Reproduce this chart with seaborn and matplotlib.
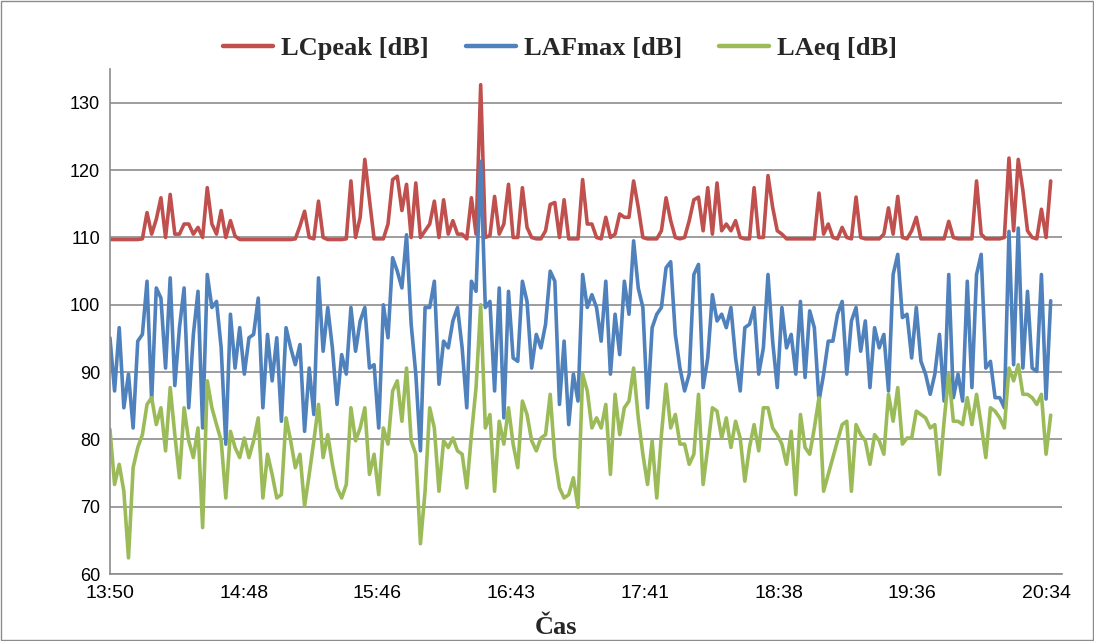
import numpy as np
import pandas as pd
import matplotlib.pyplot as plt
import seaborn as sns
from matplotlib.patches import Rectangle

# Noise levels, one sample every 2 minutes from 13:50
lcpeak = [
    109.7, 109.7, 109.7, 109.7, 109.7, 109.7, 109.7, 109.8, 113.7, 110.5,
    112.7, 115.9, 110.0, 116.4, 110.5, 110.5, 112.0, 112.0, 110.5, 111.5,
    110.0, 117.4, 112.0, 110.5, 114.0, 110.0, 112.5, 110.2, 109.7, 109.7,
    109.7, 109.7, 109.7, 109.7, 109.7, 109.7, 109.7, 109.7, 109.7, 109.7,
    109.8, 111.7, 113.9, 110.0, 109.8, 115.4, 110.0, 109.7, 109.7, 109.7,
    109.7, 109.8, 118.4, 110.0, 113.0, 121.6, 115.6, 109.8, 109.8, 109.8,
    112.0, 118.6, 119.1, 114.0, 117.9, 110.0, 118.1, 110.0, 111.0, 112.0,
    115.4, 110.0, 115.6, 110.5, 112.5, 110.5, 110.5, 109.8, 115.9, 110.5,
    132.7, 110.0, 110.3, 116.1, 110.5, 112.0, 117.9, 110.0, 110.0, 117.4,
    111.5, 110.0, 109.8, 109.8, 111.0, 114.9, 115.2, 110.0, 115.6, 109.8,
    109.8, 109.8, 118.6, 112.0, 112.0, 110.0, 109.8, 113.0, 110.0, 110.5,
    113.5, 113.0, 113.0, 118.4, 114.5, 110.0, 109.8, 109.8, 109.8, 111.0,
    115.9, 112.5, 110.0, 109.8, 110.0, 112.5, 115.6, 116.0, 111.0, 117.4,
    110.5, 118.1, 111.0, 112.0, 111.0, 112.5, 110.0, 109.8, 109.8, 117.4,
    110.0, 110.0, 119.2, 114.5, 111.0, 110.5, 109.8, 109.8, 109.8, 109.8,
    109.8, 109.8, 109.8, 116.6, 110.5, 112.0, 110.0, 109.8, 111.5, 110.0,
    109.8, 116.0, 110.0, 109.8, 109.8, 109.8, 109.8, 110.5, 114.4, 110.5,
    116.1, 110.0, 109.8, 111.0, 113.0, 109.8, 109.8, 109.8, 109.8, 109.8,
    109.8, 112.4, 110.0, 109.8, 109.8, 109.8, 109.8, 118.4, 110.5, 109.8,
    109.8, 109.8, 109.8, 110.0, 121.8, 111.0, 121.6, 117.0, 111.0, 110.0,
    109.8, 114.2, 110.0, 118.4,
]

lafmax = [
    95.1, 87.2, 96.6, 84.7, 89.7, 81.7, 94.6, 95.6, 103.5, 85.7,
    102.5, 101.0, 90.6, 104.0, 88.0, 96.6, 102.5, 84.7, 95.6, 102.0,
    81.7, 104.5, 99.6, 100.5, 93.6, 79.3, 98.6, 90.6, 96.6, 89.7,
    95.1, 95.6, 101.0, 84.7, 95.6, 88.7, 95.1, 82.7, 96.6, 93.6,
    91.1, 94.1, 81.2, 90.6, 83.7, 104.0, 93.1, 99.6, 93.6, 85.2,
    92.6, 89.7, 99.6, 93.1, 97.6, 99.6, 90.6, 91.1, 81.7, 100.0,
    95.1, 107.0, 105.0, 102.5, 110.4, 97.1, 89.7, 78.3, 99.6, 99.6,
    103.5, 88.2, 94.6, 93.6, 97.6, 99.6, 93.6, 84.7, 103.5, 102.0,
    121.3, 99.6, 100.5, 87.2, 102.5, 83.2, 102.0, 92.1, 91.6, 103.5,
    100.5, 90.6, 95.6, 93.6, 97.1, 105.0, 103.5, 85.2, 94.6, 82.2,
    89.7, 85.7, 104.5, 99.6, 101.5, 99.6, 94.6, 103.5, 89.7, 98.6,
    92.6, 103.5, 98.6, 109.5, 102.5, 99.6, 84.7, 96.6, 98.6, 99.6,
    105.5, 106.4, 95.6, 90.6, 87.2, 89.7, 104.5, 106.0, 87.7, 92.1,
    101.5, 97.6, 98.6, 96.6, 99.6, 92.1, 87.2, 96.6, 97.1, 99.6,
    89.7, 93.6, 104.5, 94.6, 87.7, 99.6, 93.6, 95.6, 89.7, 100.5,
    89.2, 99.1, 96.6, 85.7, 89.7, 94.6, 94.6, 98.6, 100.5, 89.7,
    97.6, 99.6, 93.1, 97.6, 87.7, 96.6, 93.6, 95.6, 87.2, 104.5,
    107.5, 98.1, 98.6, 92.1, 99.6, 91.6, 89.7, 86.7, 89.7, 95.6,
    85.7, 104.5, 86.2, 89.7, 85.7, 103.5, 87.7, 104.5, 107.5, 90.6,
    91.6, 86.2, 86.2, 84.7, 110.9, 91.1, 111.4, 90.6, 102.0, 90.6,
    90.1, 104.5, 86.0, 100.6,
]

laeq = [
    81.5, 73.3, 76.3, 72.3, 62.4, 75.8, 78.8, 80.7, 85.2, 86.2,
    82.2, 84.7, 78.3, 87.7, 80.7, 74.3, 84.7, 79.8, 77.3, 81.7,
    66.9, 88.7, 84.7, 82.2, 79.8, 71.3, 81.2, 78.8, 77.3, 80.2,
    77.3, 79.8, 83.2, 71.3, 77.8, 74.8, 71.3, 71.8, 83.2, 79.8,
    75.8, 77.8, 70.1, 74.8, 79.8, 85.2, 77.3, 80.7, 76.3, 72.8,
    71.3, 73.3, 84.7, 79.8, 81.7, 84.7, 74.8, 77.8, 71.8, 81.7,
    79.3, 87.2, 88.7, 82.7, 90.6, 79.8, 77.8, 64.5, 72.3, 84.7,
    81.7, 72.3, 79.8, 78.8, 80.2, 78.3, 77.8, 72.8, 80.7, 87.7,
    100.0, 81.7, 83.7, 72.3, 82.7, 79.3, 84.7, 79.3, 75.8, 85.7,
    83.7, 79.8, 78.3, 80.2, 80.7, 86.7, 77.3, 72.8, 71.3, 71.8,
    74.3, 69.9, 89.7, 87.2, 81.7, 83.2, 81.7, 85.2, 74.8, 86.7,
    80.7, 84.7, 85.7, 90.6, 83.2, 77.8, 73.3, 79.8, 71.3, 80.7,
    88.2, 81.7, 83.7, 79.3, 79.3, 76.3, 77.8, 86.7, 73.3, 78.8,
    84.7, 84.2, 80.2, 83.2, 78.8, 82.7, 80.2, 73.8, 78.8, 82.2,
    78.3, 84.7, 84.7, 81.7, 80.7, 79.3, 76.3, 81.2, 71.8, 83.7,
    78.8, 77.8, 81.7, 86.2, 72.3, 74.8, 77.3, 79.8, 82.2, 82.7,
    72.3, 82.2, 80.7, 79.8, 76.3, 80.7, 79.8, 77.8, 86.7, 82.7,
    87.7, 79.3, 80.2, 80.2, 84.2, 83.7, 83.2, 81.7, 82.2, 74.8,
    82.7, 89.7, 82.7, 82.7, 82.2, 86.2, 82.2, 86.7, 82.2, 77.3,
    84.7, 84.2, 83.2, 81.7, 90.6, 88.7, 91.1, 86.7, 86.7, 86.2,
    85.2, 86.7, 77.8, 83.6,
]

series_names = ['LCpeak [dB]', 'LAFmax [dB]', 'LAeq [dB]']
series_colors = ['#C0504D', '#4F81BD', '#9BBB59']
time_labels = ['13:50', '14:48', '15:46', '16:43', '17:41', '18:38', '19:36', '20:34']
y_ticks = [60, 70, 80, 90, 100, 110, 120, 130]

minutes = np.arange(len(lcpeak)) * 2
df = pd.DataFrame({'min': minutes,
                   series_names[0]: lcpeak,
                   series_names[1]: lafmax,
                   series_names[2]: laeq})
long_df = df.melt(id_vars='min', var_name='series', value_name='dB')

sns.set_theme(style='white')
plt.rcParams['font.family'] = ['Liberation Sans', 'DejaVu Sans']

fig = plt.figure(figsize=(10.94, 6.41), dpi=100)
ax = fig.add_axes([0.1005, 0.1045, 0.8705, 0.7875])

sns.lineplot(data=long_df, x='min', y='dB', hue='series', hue_order=series_names,
             palette=series_colors, linewidth=2.6, ax=ax, legend=True)
for line in ax.lines:
    line.set_solid_joinstyle('round')

ax.set_xlim(0, 411)
ax.set_ylim(60, 135)
ax.set_yticks(y_ticks)
ax.set_xticks(np.linspace(0, 404, len(time_labels)))
ax.set_xticklabels(time_labels)
ax.tick_params(axis='both', colors='#808080', labelcolor='black',
               length=5, width=1, direction='out')
ax.tick_params(axis='y', labelsize=13, pad=2)
ax.tick_params(axis='x', labelsize=14, pad=3)
ax.yaxis.grid(True, color='#8C8C8C', linewidth=1.2)
ax.set_axisbelow(True)
ax.set_xlabel('')
ax.set_ylabel('')
for side in ['top', 'right']:
    ax.spines[side].set_visible(False)
for side in ['left', 'bottom']:
    ax.spines[side].set_color('#8C8C8C')
    ax.spines[side].set_linewidth(1.2)

handles, labels = ax.get_legend_handles_labels()
ax.get_legend().remove()
leg = fig.legend(handles, labels, loc='center', bbox_to_anchor=(0.512, 0.925), ncol=3,
                 frameon=False, handlelength=1.9, handletextpad=0.3, columnspacing=1.4,
                 prop={'family': 'Liberation Serif', 'weight': 'bold', 'size': 19})
for h in leg.legend_handles:
    h.set_linewidth(3.2)

fig.text(0.508, 0.021, 'Čas', ha='center', va='center',
         family='Liberation Serif', weight='bold', fontsize=19)

fig.patches.append(Rectangle((0.001, 0.001), 0.998, 0.997, transform=fig.transFigure,
                             fill=False, edgecolor='#8C8C8C', linewidth=1))

fig.savefig('out.png', dpi=100)
